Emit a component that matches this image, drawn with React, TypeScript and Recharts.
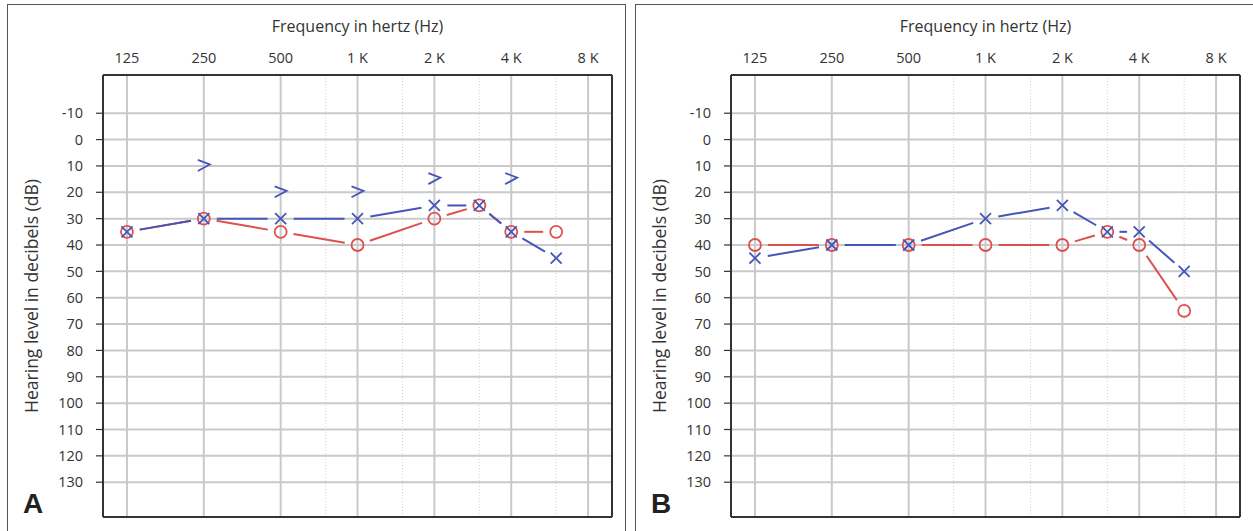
import React from 'react';
import { LineChart, Line, XAxis, YAxis, CartesianGrid, ReferenceLine } from 'recharts';

const FREQS = [125, 250, 500, 1000, 2000, 3000, 4000, 6000];
const X_TICKS = [125, 250, 500, 1000, 2000, 4000, 8000];
const X_TICK_LABELS = ['125', '250', '500', '1 K', '2 K', '4 K', '8 K'];
const MINOR_FREQS = [750, 1500, 3000, 6000];
const Y_TICKS = [-10, 0, 10, 20, 30, 40, 50, 60, 70, 80, 90, 100, 110, 120, 130];

// panel A
const A_RIGHT = [35, 30, 35, 40, 30, 25, 35, 35];
const A_LEFT = [35, 30, 30, 30, 25, 25, 35, 45];
const A_BONE_FREQS = [250, 500, 1000, 2000, 4000];
const A_BONE = [10, 20, 20, 15, 15];

// panel B
const B_RIGHT = [40, 40, 40, 40, 40, 35, 40, 65];
const B_LEFT = [45, 40, 40, 30, 25, 35, 35, 50];

const RED = '#dd5050';
const BLUE = '#4656b8';
const GRID = '#c9c9c9';
const TEXT = '#333';
const FONT = '"Open Sans", Lato, sans-serif';
const X_DOMAIN = [100.7, 9927];
const Y_DOMAIN = [-24.5, 143.2];
const GAP = 13;

const buildRows = (right: number[], left: number[]) =>
  FREQS.map((freq, i) => ({ freq, right: right[i], left: left[i] }));

const boneRows = A_BONE_FREQS.map((freq, i) => ({ freq, bone: A_BONE[i] }));

// marker + the shortened segment to the next point (the lines stop short of the symbols)
const makeDot = (kind: 'o' | 'x' | '>', color: string, connect: boolean) => (props: any) => {
  const { cx, cy, index, points } = props;
  if (cx == null || cy == null) return <g key={`${kind}-${index}`} />;
  let seg = null;
  const next = connect && points ? points[index + 1] : null;
  if (next && next.x != null && next.y != null) {
    const dx = next.x - cx;
    const dy = next.y - cy;
    const len = Math.sqrt(dx * dx + dy * dy);
    const gap = Math.min(GAP, len * 0.38);
    const ux = dx / len;
    const uy = dy / len;
    seg = (
      <line
        x1={cx + ux * gap}
        y1={cy + uy * gap}
        x2={next.x - ux * gap}
        y2={next.y - uy * gap}
        stroke={color}
        strokeWidth={2}
      />
    );
  }
  let mark;
  if (kind === 'o') {
    mark = <circle cx={cx} cy={cy} r={6} fill="none" stroke={color} strokeWidth={1.8} />;
  } else if (kind === 'x') {
    mark = (
      <path
        d={`M${cx - 5.5},${cy - 5.5}L${cx + 5.5},${cy + 5.5}M${cx + 5.5},${cy - 5.5}L${cx - 5.5},${cy + 5.5}`}
        stroke={color}
        strokeWidth={1.8}
        fill="none"
      />
    );
  } else {
    mark = (
      <path
        d={`M${cx - 6},${cy - 6}L${cx + 6},${cy - 1.5}L${cx - 6},${cy + 5}`}
        stroke={color}
        strokeWidth={1.8}
        fill="none"
      />
    );
  }
  return (
    <g key={`${kind}-${index}`}>
      {seg}
      {mark}
    </g>
  );
};

const tickStyle = { fill: TEXT, fontSize: 14.5, fontFamily: FONT };

const Audiogram = ({ right, left, bone }: { right: number[]; left: number[]; bone?: boolean }) => {
  const rows = buildRows(right, left);
  return (
    <LineChart width={626} height={531} data={rows} margin={{ top: 35, right: 13, bottom: 13, left: 0 }}>
      <CartesianGrid stroke={GRID} strokeWidth={2} horizontalValues={Y_TICKS} />
      {MINOR_FREQS.map((f) => (
        <ReferenceLine key={f} x={f} stroke="#d4d4d4" strokeWidth={1} strokeDasharray="1 2" />
      ))}
      <XAxis
        dataKey="freq"
        type="number"
        scale="log"
        domain={X_DOMAIN}
        allowDataOverflow
        orientation="top"
        ticks={X_TICKS}
        tickFormatter={(v: number) => X_TICK_LABELS[X_TICKS.indexOf(v)] ?? ''}
        tickLine={false}
        tickSize={6}
        tickMargin={6}
        height={40}
        axisLine={{ stroke: TEXT, strokeWidth: 2 }}
        tick={tickStyle}
        interval={0}
        label={{
          value: 'Frequency in hertz (Hz)',
          position: 'top',
          offset: 3,
          fill: TEXT,
          fontSize: 16,
          fontFamily: FONT,
        }}
      />
      <XAxis
        xAxisId="edge"
        type="number"
        scale="log"
        domain={X_DOMAIN}
        orientation="bottom"
        height={1}
        tick={false}
        tickLine={false}
        axisLine={{ stroke: TEXT, strokeWidth: 2 }}
      />
      <YAxis
        type="number"
        domain={Y_DOMAIN}
        allowDataOverflow
        reversed
        ticks={Y_TICKS}
        interval={0}
        width={103}
        tickSize={7}
        tickMargin={13}
        tickLine={{ stroke: TEXT, strokeWidth: 1.2 }}
        axisLine={{ stroke: TEXT, strokeWidth: 2 }}
        tick={tickStyle}
        label={{
          value: 'Hearing level in decibels (dB)',
          angle: -90,
          position: 'insideLeft',
          offset: 32,
          fill: TEXT,
          fontSize: 17.5,
          fontFamily: FONT,
          style: { textAnchor: 'middle' },
        }}
      />
      <YAxis
        yAxisId="edge"
        type="number"
        domain={Y_DOMAIN}
        orientation="right"
        width={1}
        tick={false}
        tickLine={false}
        axisLine={{ stroke: TEXT, strokeWidth: 2 }}
      />
      <Line
        dataKey="right"
        stroke="none"
        dot={makeDot('o', RED, true)}
        activeDot={false}
        isAnimationActive={false}
        legendType="none"
      />
      <Line
        dataKey="left"
        stroke="none"
        dot={makeDot('x', BLUE, true)}
        activeDot={false}
        isAnimationActive={false}
        legendType="none"
      />
      {bone && (
        <Line
          data={boneRows}
          dataKey="bone"
          stroke="none"
          dot={makeDot('>', BLUE, false)}
          activeDot={false}
          isAnimationActive={false}
          legendType="none"
        />
      )}
    </LineChart>
  );
};

const panelLetter: React.CSSProperties = {
  position: 'absolute',
  top: 490,
  fontFamily: '"Liberation Sans", Arial, sans-serif',
  fontWeight: 700,
  fontSize: 28,
  color: '#222',
  lineHeight: '28px',
};

export default function App() {
  return (
    <div
      style={{
        position: 'absolute',
        left: 0,
        top: 0,
        width: 1253,
        height: 531,
        overflow: 'hidden',
        background: '#fff',
      }}
    >
      <div style={{ position: 'absolute', left: 7, top: 4, width: 619, height: 600, border: '1.5px solid #555', boxSizing: 'border-box' }} />
      <div style={{ position: 'absolute', left: 635, top: 4, width: 640, height: 600, border: '1.5px solid #555', boxSizing: 'border-box' }} />
      <div style={{ position: 'absolute', left: 0, top: 0 }}>
        <Audiogram right={A_RIGHT} left={A_LEFT} bone />
      </div>
      <div style={{ position: 'absolute', left: 628, top: 0 }}>
        <Audiogram right={B_RIGHT} left={B_LEFT} />
      </div>
      <div style={{ ...panelLetter, left: 23 }}>A</div>
      <div style={{ ...panelLetter, left: 651 }}>B</div>
    </div>
  );
}
